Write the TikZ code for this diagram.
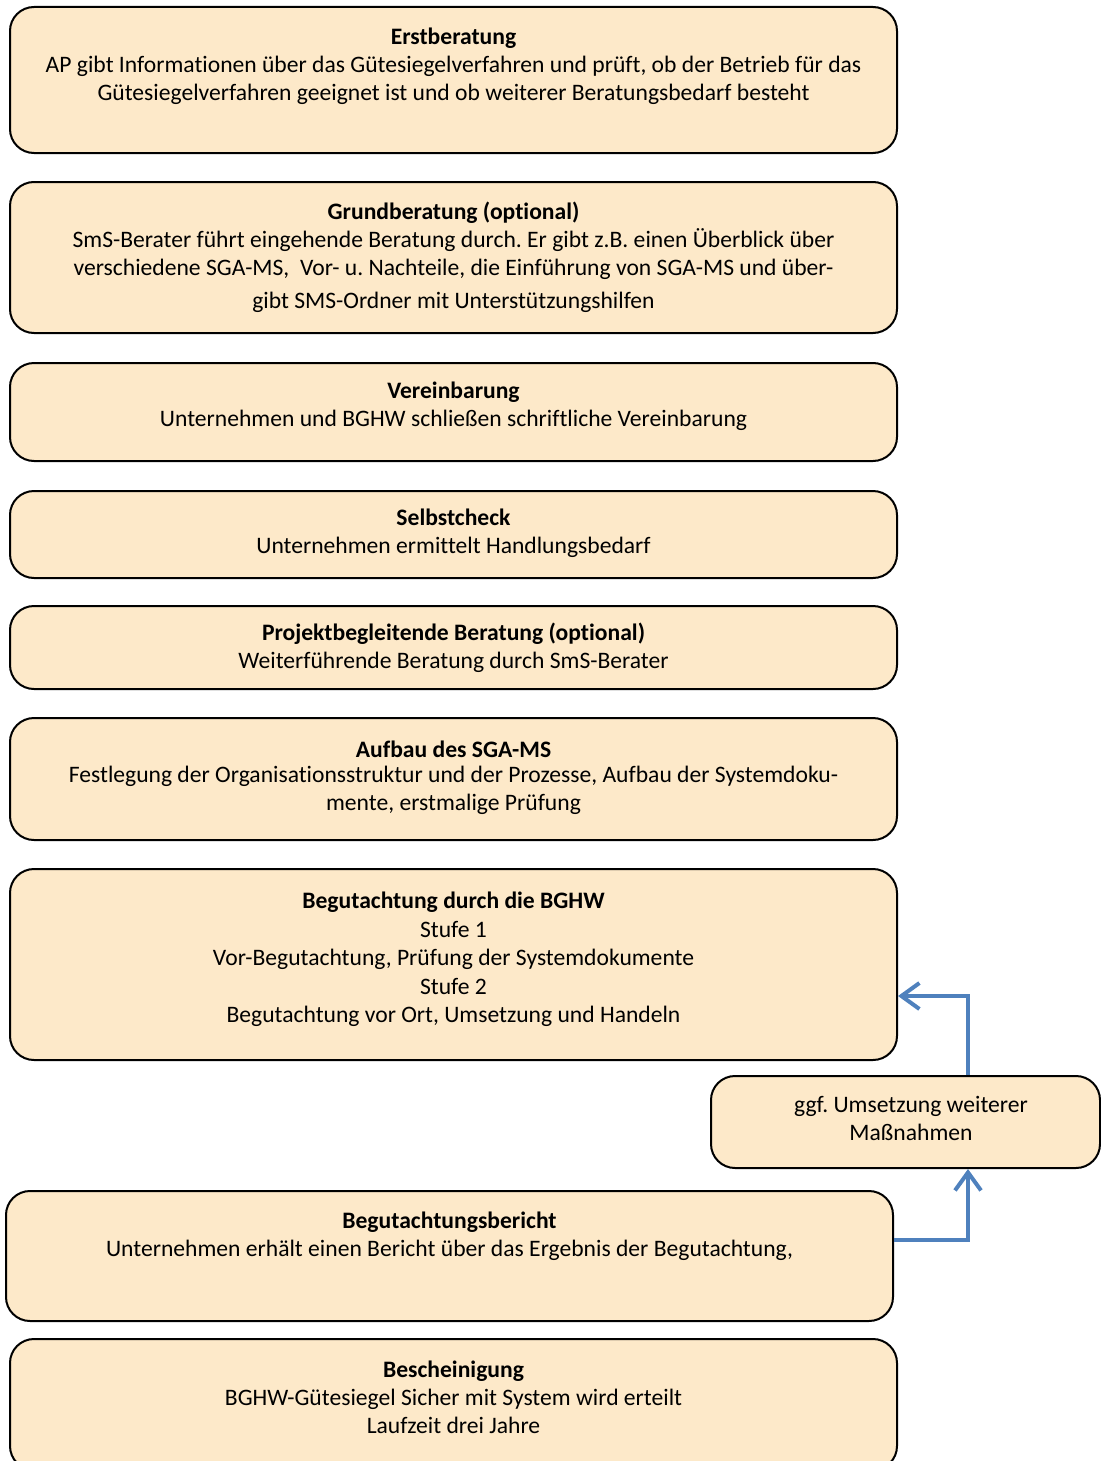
\documentclass[tikz,border=0pt]{standalone}
\usepackage{fontspec}
\setmainfont[Ligatures=NoCommon]{Carlito}
\frenchspacing
\usetikzlibrary{arrows.meta}
\definecolor{boxfill}{RGB}{253,233,201}
\definecolor{flowblue}{RGB}{79,129,189}

\begin{document}
\begin{tikzpicture}[x=0.5pt, y=-0.5pt,
  box/.style={draw=black, line width=1pt, fill=boxfill, rounded corners=12pt,
              minimum width=443.5pt, inner sep=0pt},
  boxtext/.style={anchor=north, align=center, inner sep=0pt,
                  font=\fontsize{11.8}{14}\selectfont},
  flow/.style={draw=flowblue, line width=2pt,
               -{Straight Barb[length=9pt,width=13pt]}}]

% --- page frame (pixel units, y downwards) --------------------------
\useasboundingbox (0,0) rectangle (1101,1461);

% === process boxes ==================================================
\node[box, minimum height=73pt]   (erst)      at (453.5,80)    {};
\node[box, minimum height=75.5pt] (grund)     at (453.5,257.5) {};
\node[box, minimum height=49pt]   (verein)    at (453.5,412)   {};
\node[box, minimum height=43.5pt] (selbst)    at (453.5,534.5) {};
\node[box, minimum height=41.5pt] (projekt)   at (453.5,647.5) {};
\node[box, minimum height=61pt]   (aufbau)    at (453.5,779)   {};
\node[box, minimum height=95.5pt] (gutachten) at (453.5,964.5) {};
\node[box, minimum height=65pt]   (bericht)   at (449.5,1256)  {};
\node[box, minimum height=65.5pt] (beschein)  at (453.5,1404.5){};

% side box (runs off the right edge)
\node[box, minimum width=194.5pt, minimum height=46pt] (ggf) at (905.5,1122) {};

% === texts (top aligned inside the boxes) ===========================
\node[boxtext] (erst-t) at (453.5,24.4)
  {\textbf{Erstberatung}\strut\\
   AP gibt Informationen über das Gütesiegelverfahren und prüft, ob der Betrieb für das\\
   Gütesiegelverfahren geeignet ist und ob weiterer Beratungsbedarf besteht};

\node[boxtext] (grund-t) at (453.5,199.4)
  {\textbf{Grundberatung (optional)}\strut\\
   SmS-Berater führt eingehende Beratung durch. Er gibt z.B. einen Überblick über\\
   verschiedene SGA-MS,~ Vor- u. Nachteile, die Einführung von SGA-MS und über-\\[2.5pt]
   gibt SMS-Ordner mit Unterstützungshilfen};

\node[boxtext] (verein-t) at (453.5,378.4)
  {\textbf{Vereinbarung}\strut\\
   Unternehmen und BGHW schließen schriftliche Vereinbarung};

\node[boxtext] (selbst-t) at (453.5,505.4)
  {\textbf{Selbstcheck}\strut\\
   Unternehmen ermittelt Handlungsbedarf};

\node[boxtext] (projekt-t) at (453.5,620.4)
  {\textbf{Projektbegleitende Beratung (optional)}\strut\\
   Weiterführende Beratung durch SmS-Berater};

\node[boxtext] (aufbau-t) at (453.5,737.4)
  {\textbf{Aufbau des SGA-MS}\strut\\[-1.5pt]
   Festlegung der Organisationsstruktur und der Prozesse, Aufbau der Systemdoku-\\
   mente, erstmalige Prüfung};

\node[boxtext] (gutachten-t) at (453.5,888.4)
  {\textbf{Begutachtung durch die BGHW}\strut\\[0.3pt]
   Stufe 1\\[0.3pt]
   Vor-Begutachtung, Prüfung der Systemdokumente\\[0.3pt]
   Stufe 2\\[0.3pt]
   Begutachtung vor Ort, Umsetzung und Handeln};

\node[boxtext] (ggf-t) at (911,1092.4)
  {ggf. Umsetzung weiterer\strut\\
   Maßnahmen};

\node[boxtext] (bericht-t) at (449.5,1208.4)
  {\textbf{Begutachtungsbericht}\strut\\
   Unternehmen erhält einen Bericht über das Ergebnis der Begutachtung,};

\node[boxtext] (beschein-t) at (453.5,1357.4)
  {\textbf{Bescheinigung}\strut\\
   BGHW-Gütesiegel Sicher mit System wird erteilt\\
   Laufzeit drei Jahre};

% === feedback loop (blue) ===========================================
\draw[flow] ([yshift=8pt]bericht.east) -| ([xshift=31.25pt]ggf.south);
\draw[flow] ([xshift=31.25pt]ggf.north) |- ([yshift=-15.75pt]gutachten.east);

\end{tikzpicture}
\end{document}
